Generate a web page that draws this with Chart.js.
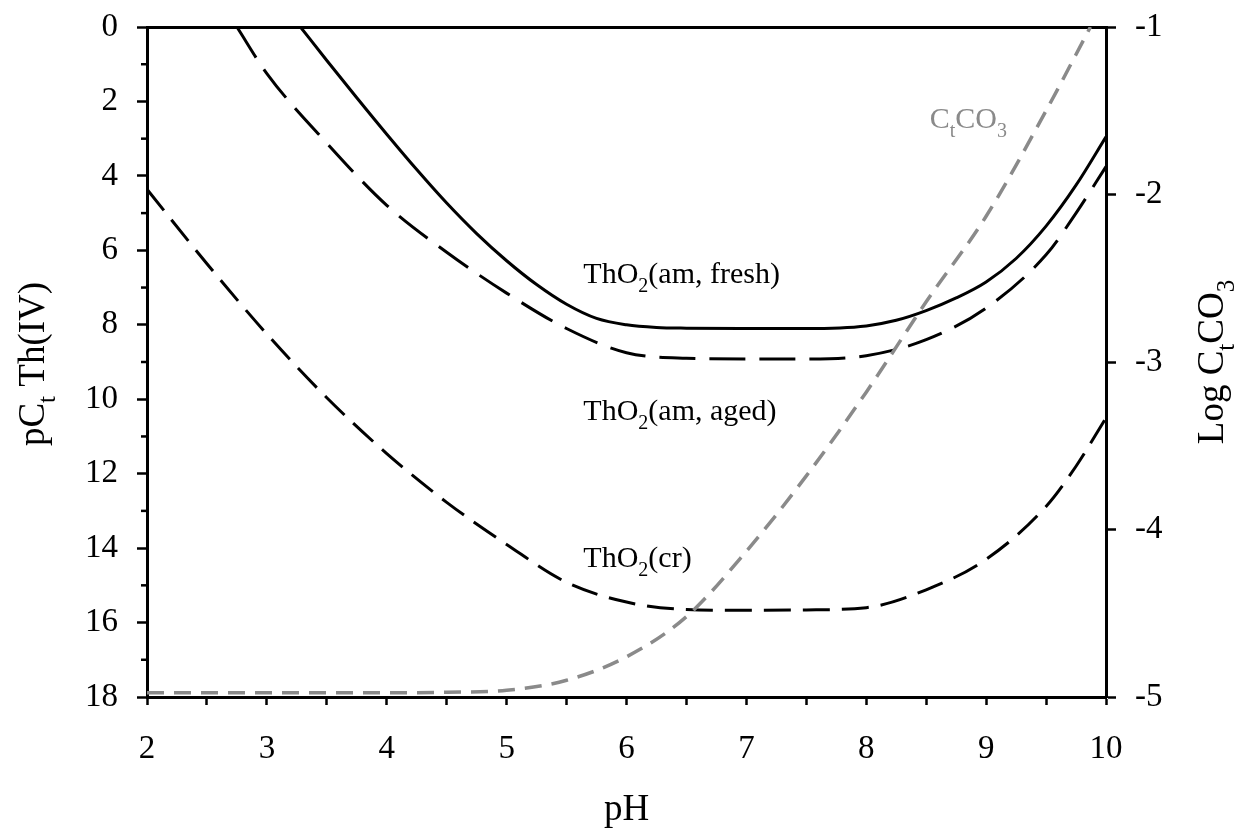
<!DOCTYPE html>
<html lang="en">
<head>
    <meta charset="UTF-8">
    <title>ThO2 solubility vs pH</title>
    <style>
        html, body {
            margin: 0;
            padding: 0;
            background-color: #ffffff;
        }

        .chart-container {
            position: relative;
            width: 1236px;
            height: 834px;
        }
    </style>
</head>
<body>
    <div class="chart-container">
        <canvas id="solChart" width="1236" height="834"></canvas>
    </div>

    <script src="https://cdn.jsdelivr.net/npm/chart.js"></script>
    <script>
        // ThO2(am, fresh) - pC_t Th(IV)
        const freshPH = [3.28, 3.5, 3.75, 4.0, 4.25, 4.5, 4.75, 5.0, 5.25, 5.5, 5.75, 6.0, 6.25, 6.5, 7.0, 7.5, 8.0, 8.25, 8.5, 8.75, 9.0, 9.25, 9.5, 9.75, 10.0];
        const freshPC = [0, 0.9, 1.9, 2.88, 3.83, 4.73, 5.55, 6.28, 6.92, 7.45, 7.83, 8.0, 8.07, 8.09, 8.1, 8.1, 8.03, 7.88, 7.62, 7.28, 6.85, 6.22, 5.35, 4.25, 2.95];

        // ThO2(am, aged)
        const agedPH = [2.75, 3.0, 3.5, 4.0, 4.5, 5.0, 5.5, 6.0, 6.5, 7.0, 7.5, 8.0, 8.5, 9.0, 9.5, 9.75, 10.0];
        const agedPC = [0, 1.25, 3.12, 4.79, 6.05, 7.15, 8.1, 8.75, 8.9, 8.92, 8.92, 8.83, 8.4, 7.55, 6.12, 5.0, 3.75];

        // ThO2(cr)
        const crPH = [2.0, 2.5, 3.0, 3.5, 4.0, 4.5, 5.0, 5.5, 6.0, 6.5, 7.0, 7.5, 8.0, 8.5, 9.0, 9.5, 9.75, 10.0];
        const crPC = [4.36, 6.36, 8.25, 9.96, 11.46, 12.77, 13.9, 14.92, 15.45, 15.65, 15.67, 15.66, 15.6, 15.12, 14.3, 12.88, 11.8, 10.5];

        // Log C_t CO3 (right axis)
        const co3PH = [2.0, 2.5, 3.0, 3.5, 4.0, 4.5, 5.0, 5.5, 6.0, 6.5, 7.0, 7.5, 8.0, 8.5, 9.0, 9.5, 9.87];
        const co3Log = [-4.975, -4.975, -4.975, -4.975, -4.975, -4.972, -4.96, -4.9, -4.76, -4.52, -4.13, -3.68, -3.18, -2.64, -2.13, -1.5, -1.0];

        const FONT = "'Liberation Serif', 'Times New Roman', serif";
        const GREY = '#8a8a8a';

        // curve labels, anchored in axis units (left edge, baseline)
        const curveLabels = [
            { runs: [['ThO'], ['2', 'sub'], ['(am, fresh)']], ph: 5.64, pc: 6.88, color: '#000' },
            { runs: [['ThO'], ['2', 'sub'], ['(am, aged)']], ph: 5.64, pc: 10.56, color: '#000' },
            { runs: [['ThO'], ['2', 'sub'], ['(cr)']], ph: 5.64, pc: 14.51, color: '#000' },
            { runs: [['C'], ['t', 'sub'], ['CO'], ['3', 'sub']], ph: 8.53, pc: 2.71, color: GREY }
        ];

        function toXY(xs, ys) {
            return xs.map((x, i) => ({ x: x, y: ys[i] }));
        }

        // draws text runs with subscripts, starting at x (or centred)
        function drawRuns(ctx, runs, x, y, size, center) {
            const subSize = Math.round(size * 0.68);
            const widths = runs.map(r => {
                ctx.font = (r[1] === 'sub' ? subSize : size) + 'px ' + FONT;
                return ctx.measureText(r[0]).width;
            });
            const total = widths.reduce((a, b) => a + b, 0);
            let cx = center ? x - total / 2 : x;
            ctx.textAlign = 'left';
            ctx.textBaseline = 'alphabetic';
            runs.forEach((r, i) => {
                const sub = r[1] === 'sub';
                ctx.font = (sub ? subSize : size) + 'px ' + FONT;
                ctx.fillText(r[0], cx, sub ? y + size * 0.3 : y);
                cx += widths[i];
            });
        }

        const extrasPlugin = {
            id: 'extras',
            afterDraw(chart) {
                const ctx = chart.ctx;
                const area = chart.chartArea;
                const xs = chart.scales.x;
                const ys = chart.scales.y;

                ctx.save();
                // minor ticks on the left axis
                ctx.strokeStyle = '#000';
                ctx.lineWidth = 2.5;
                for (let v = 1; v < 18; v += 2) {
                    const py = ys.getPixelForValue(v);
                    ctx.beginPath();
                    ctx.moveTo(area.left - 6, py);
                    ctx.lineTo(area.left, py);
                    ctx.stroke();
                }

                // curve labels
                curveLabels.forEach(l => {
                    ctx.fillStyle = l.color;
                    drawRuns(ctx, l.runs, xs.getPixelForValue(l.ph), ys.getPixelForValue(l.pc), 30, false);
                });

                // axis titles
                ctx.fillStyle = '#000';
                drawRuns(ctx, [['pH']], (area.left + area.right) / 2, area.bottom + 123, 37, true);

                const midY = (area.top + area.bottom) / 2;
                ctx.save();
                ctx.translate(44, midY + 2);
                ctx.rotate(-Math.PI / 2);
                drawRuns(ctx, [['pC'], ['t', 'sub'], [' Th(IV)']], 0, 0, 37, true);
                ctx.restore();

                ctx.save();
                ctx.translate(area.right + 117, midY);
                ctx.rotate(-Math.PI / 2);
                drawRuns(ctx, [['Log C'], ['t', 'sub'], ['CO'], ['3', 'sub']], 0, 0, 37, true);
                ctx.restore();

                ctx.restore();
            }
        };

        // keep the plot box fixed: no extra room for the end tick labels
        function fixWidth(w) {
            return s => {
                s.width = w;
                s.paddingTop = 0;
                s.paddingBottom = 0;
            };
        }

        const axisGrid = {
            drawOnChartArea: false,
            drawTicks: true,
            tickLength: 10,
            tickWidth: 2.5,
            color: '#000'
        };
        const axisBorder = { display: true, width: 3, color: '#000' };
        const tickFont = { family: FONT, size: 33 };

        const ctx = document.getElementById('solChart').getContext('2d');
        const solChart = new Chart(ctx, {
            type: 'line',
            data: {
                datasets: [
                    {
                        label: 'CtCO3',
                        data: toXY(co3PH, co3Log),
                        yAxisID: 'y2',
                        borderColor: GREY,
                        borderWidth: 3.5,
                        borderDash: [17, 10],
                        order: 0
                    },
                    {
                        label: 'ThO2(am, fresh)',
                        data: toXY(freshPH, freshPC),
                        yAxisID: 'y',
                        borderColor: '#000',
                        borderWidth: 3,
                        order: 1
                    },
                    {
                        label: 'ThO2(am, aged)',
                        data: toXY(agedPH, agedPC),
                        yAxisID: 'y',
                        borderColor: '#000',
                        borderWidth: 3,
                        borderDash: [36, 14],
                        order: 1
                    },
                    {
                        label: 'ThO2(cr)',
                        data: toXY(crPH, crPC),
                        yAxisID: 'y',
                        borderColor: '#000',
                        borderWidth: 3,
                        borderDash: [27, 12],
                        order: 1
                    }
                ]
            },
            options: {
                responsive: false,
                animation: false,
                devicePixelRatio: 1,
                layout: { padding: { top: 27, left: 0, right: 0, bottom: 0 } },
                elements: {
                    point: { radius: 0 },
                    line: { cubicInterpolationMode: 'monotone', fill: false, borderCapStyle: 'butt' }
                },
                plugins: {
                    legend: { display: false },
                    tooltip: { enabled: false }
                },
                scales: {
                    x: {
                        type: 'linear',
                        position: 'bottom',
                        min: 2,
                        max: 10,
                        afterFit: s => {
                            s.height = 137;
                            s.paddingLeft = 0;
                            s.paddingRight = 0;
                        },
                        ticks: {
                            stepSize: 0.5,
                            autoSkip: false,
                            maxRotation: 0,
                            padding: 25,
                            color: '#000',
                            font: tickFont,
                            callback: v => Number.isInteger(v) ? String(v) : ''
                        },
                        grid: Object.assign({}, axisGrid, { tickLength: 8 }),
                        border: axisBorder
                    },
                    xTop: {
                        type: 'linear',
                        position: 'top',
                        min: 2,
                        max: 10,
                        afterFit: s => { s.height = 0; },
                        ticks: { display: false },
                        grid: { drawOnChartArea: false, drawTicks: false },
                        border: axisBorder
                    },
                    y: {
                        type: 'linear',
                        position: 'left',
                        min: 0,
                        max: 18,
                        reverse: true,
                        afterFit: fixWidth(147),
                        ticks: {
                            stepSize: 1,
                            autoSkip: false,
                            padding: 19,
                            color: '#000',
                            font: tickFont,
                            callback: v => v % 2 === 0 ? String(v) : ''
                        },
                        grid: Object.assign({}, axisGrid, {
                            tickColor: c => (c.tick && c.tick.value % 2 !== 0) ? 'rgba(0,0,0,0)' : '#000'
                        }),
                        border: axisBorder
                    },
                    y2: {
                        type: 'linear',
                        position: 'right',
                        min: -5,
                        max: -1,
                        afterFit: fixWidth(130),
                        ticks: {
                            stepSize: 1,
                            autoSkip: false,
                            padding: 19,
                            color: '#000',
                            font: tickFont
                        },
                        grid: axisGrid,
                        border: axisBorder
                    }
                }
            },
            plugins: [extrasPlugin]
        });
    </script>
</body>
</html>
